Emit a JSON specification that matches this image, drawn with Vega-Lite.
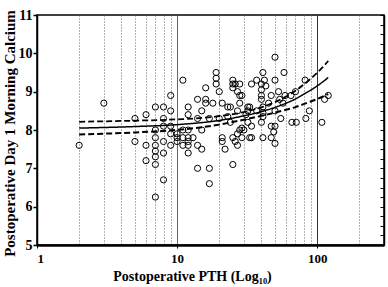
{
  "$schema": "https://vega.github.io/schema/vega-lite/v6.json",
  "width": 347,
  "height": 230,
  "autosize": "none",
  "padding": {"left": 37, "top": 15, "right": 4, "bottom": 42},
  "background": "white",
  "config": {
    "view": {"stroke": "black", "strokeWidth": 1.5},
    "font": "Liberation Serif"
  },
  "datasets": {
    "pts": [
      {"pth": 2, "ca": 7.6}, {"pth": 3, "ca": 8.7}, {"pth": 5, "ca": 8.3}, {"pth": 5, "ca": 7.7},
      {"pth": 6, "ca": 8.4}, {"pth": 6, "ca": 7.6}, {"pth": 6, "ca": 7.2},
      {"pth": 7, "ca": 8.6}, {"pth": 7, "ca": 8.0}, {"pth": 7, "ca": 7.8}, {"pth": 7, "ca": 7.6}, {"pth": 7, "ca": 7.45}, {"pth": 7, "ca": 7.3}, {"pth": 7, "ca": 7.1}, {"pth": 7, "ca": 6.25},
      {"pth": 8, "ca": 8.6}, {"pth": 8, "ca": 8.3}, {"pth": 8, "ca": 8.1}, {"pth": 8, "ca": 7.7}, {"pth": 8, "ca": 7.4}, {"pth": 8, "ca": 6.7},
      {"pth": 9, "ca": 8.9}, {"pth": 9, "ca": 8.5}, {"pth": 9, "ca": 8.1}, {"pth": 9, "ca": 7.9}, {"pth": 9, "ca": 7.6},
      {"pth": 10, "ca": 7.9}, {"pth": 10, "ca": 7.7}, {"pth": 10, "ca": 7.8},
      {"pth": 11, "ca": 9.3}, {"pth": 11, "ca": 8.0}, {"pth": 11, "ca": 7.8}, {"pth": 11, "ca": 7.6},
      {"pth": 12, "ca": 8.6}, {"pth": 12, "ca": 8.4}, {"pth": 12, "ca": 8.0}, {"pth": 12, "ca": 7.8}, {"pth": 12, "ca": 7.6}, {"pth": 12, "ca": 7.7}, {"pth": 12, "ca": 7.4},
      {"pth": 13, "ca": 7.8},
      {"pth": 14, "ca": 8.8}, {"pth": 14, "ca": 8.3}, {"pth": 14, "ca": 7.6}, {"pth": 14, "ca": 7.0},
      {"pth": 15, "ca": 8.5}, {"pth": 15, "ca": 8.0}, {"pth": 15, "ca": 7.5},
      {"pth": 16, "ca": 9.1}, {"pth": 16, "ca": 8.8}, {"pth": 16, "ca": 8.7},
      {"pth": 17, "ca": 7.0}, {"pth": 17, "ca": 6.6}, {"pth": 17, "ca": 8.3},
      {"pth": 18, "ca": 8.7},
      {"pth": 19, "ca": 9.5}, {"pth": 19, "ca": 9.35}, {"pth": 19, "ca": 9.2},
      {"pth": 20, "ca": 9.0}, {"pth": 20, "ca": 8.3},
      {"pth": 21, "ca": 8.7}, {"pth": 21, "ca": 7.8}, {"pth": 21, "ca": 7.7}, {"pth": 22, "ca": 7.5},
      {"pth": 23, "ca": 8.6}, {"pth": 23, "ca": 8.35},
      {"pth": 24, "ca": 8.6}, {"pth": 24, "ca": 8.2},
      {"pth": 25, "ca": 9.3}, {"pth": 25, "ca": 9.2}, {"pth": 25, "ca": 9.1}, {"pth": 25, "ca": 7.8}, {"pth": 25, "ca": 7.1},
      {"pth": 26, "ca": 9.2}, {"pth": 26, "ca": 7.7},
      {"pth": 27, "ca": 9.0}, {"pth": 27, "ca": 8.5}, {"pth": 27, "ca": 7.9}, {"pth": 27, "ca": 7.6},
      {"pth": 28, "ca": 9.2}, {"pth": 28, "ca": 8.9}, {"pth": 28, "ca": 8.7}, {"pth": 28, "ca": 8.0},
      {"pth": 29, "ca": 8.9}, {"pth": 29, "ca": 8.05}, {"pth": 29, "ca": 7.8},
      {"pth": 30, "ca": 8.0}, {"pth": 31, "ca": 8.4},
      {"pth": 32, "ca": 8.6}, {"pth": 32, "ca": 8.5}, {"pth": 32, "ca": 8.2},
      {"pth": 33, "ca": 7.8}, {"pth": 33, "ca": 8.6},
      {"pth": 34, "ca": 9.2}, {"pth": 34, "ca": 8.1}, {"pth": 34, "ca": 7.8},
      {"pth": 37, "ca": 9.3}, {"pth": 37, "ca": 8.5},
      {"pth": 40, "ca": 9.2}, {"pth": 40, "ca": 9.05}, {"pth": 40, "ca": 8.9}, {"pth": 40, "ca": 8.8}, {"pth": 40, "ca": 8.2},
      {"pth": 41, "ca": 9.5}, {"pth": 41, "ca": 8.6}, {"pth": 41, "ca": 8.45}, {"pth": 41, "ca": 7.8}, {"pth": 41, "ca": 8.35},
      {"pth": 42, "ca": 9.3}, {"pth": 43, "ca": 9.15},
      {"pth": 45, "ca": 8.7},
      {"pth": 47, "ca": 8.9}, {"pth": 47, "ca": 8.1}, {"pth": 47, "ca": 7.8},
      {"pth": 49, "ca": 7.95},
      {"pth": 50, "ca": 9.9}, {"pth": 50, "ca": 9.3}, {"pth": 50, "ca": 8.5}, {"pth": 50, "ca": 8.1}, {"pth": 50, "ca": 7.65},
      {"pth": 53, "ca": 9.0}, {"pth": 54, "ca": 8.8}, {"pth": 55, "ca": 8.3}, {"pth": 57, "ca": 8.7},
      {"pth": 58, "ca": 9.5}, {"pth": 59, "ca": 8.9},
      {"pth": 65, "ca": 8.9}, {"pth": 66, "ca": 8.2},
      {"pth": 70, "ca": 9.0}, {"pth": 71, "ca": 8.2},
      {"pth": 82, "ca": 9.3}, {"pth": 83, "ca": 8.3}, {"pth": 88, "ca": 8.5},
      {"pth": 108, "ca": 8.2}, {"pth": 113, "ca": 8.8}, {"pth": 120, "ca": 8.9}
    ],
    "fit": [
      {"pth": 2, "ca": 8.05, "s": "fit"}, {"pth": 5, "ca": 8.09, "s": "fit"}, {"pth": 10, "ca": 8.14, "s": "fit"}, {"pth": 20, "ca": 8.25, "s": "fit"}, {"pth": 30, "ca": 8.37, "s": "fit"}, {"pth": 40, "ca": 8.48, "s": "fit"}, {"pth": 50, "ca": 8.59, "s": "fit"}, {"pth": 60, "ca": 8.70, "s": "fit"}, {"pth": 70, "ca": 8.81, "s": "fit"}, {"pth": 80, "ca": 8.93, "s": "fit"}, {"pth": 90, "ca": 9.04, "s": "fit"}, {"pth": 100, "ca": 9.15, "s": "fit"}, {"pth": 110, "ca": 9.26, "s": "fit"}, {"pth": 120, "ca": 9.37, "s": "fit"},
      {"pth": 2, "ca": 8.215, "s": "upper"}, {"pth": 5, "ca": 8.244, "s": "upper"}, {"pth": 10, "ca": 8.277, "s": "upper"}, {"pth": 20, "ca": 8.36, "s": "upper"}, {"pth": 30, "ca": 8.47, "s": "upper"}, {"pth": 40, "ca": 8.59, "s": "upper"}, {"pth": 50, "ca": 8.727, "s": "upper"}, {"pth": 60, "ca": 8.872, "s": "upper"}, {"pth": 70, "ca": 9.022, "s": "upper"}, {"pth": 80, "ca": 9.185, "s": "upper"}, {"pth": 90, "ca": 9.338, "s": "upper"}, {"pth": 100, "ca": 9.493, "s": "upper"}, {"pth": 110, "ca": 9.647, "s": "upper"}, {"pth": 120, "ca": 9.803, "s": "upper"},
      {"pth": 2, "ca": 7.885, "s": "lower"}, {"pth": 5, "ca": 7.936, "s": "lower"}, {"pth": 10, "ca": 8.003, "s": "lower"}, {"pth": 20, "ca": 8.14, "s": "lower"}, {"pth": 30, "ca": 8.27, "s": "lower"}, {"pth": 40, "ca": 8.37, "s": "lower"}, {"pth": 50, "ca": 8.453, "s": "lower"}, {"pth": 60, "ca": 8.528, "s": "lower"}, {"pth": 70, "ca": 8.598, "s": "lower"}, {"pth": 80, "ca": 8.675, "s": "lower"}, {"pth": 90, "ca": 8.742, "s": "lower"}, {"pth": 100, "ca": 8.807, "s": "lower"}, {"pth": 110, "ca": 8.873, "s": "lower"}, {"pth": 120, "ca": 8.937, "s": "lower"}
    ]
  },
  "resolve": {"axis": {"y": "independent"}},
  "layer": [
    {
      "data": {"name": "pts"},
      "mark": {"type": "point", "shape": "circle", "filled": false, "stroke": "black", "strokeWidth": 1, "size": 38, "opacity": 1},
      "encoding": {
        "x": {
          "field": "pth", "type": "quantitative",
          "scale": {"type": "log", "domain": [1, 300], "nice": false},
          "axis": {
            "values": [1, 2, 3, 4, 5, 6, 7, 8, 9, 10, 20, 30, 40, 50, 60, 70, 80, 90, 100, 200],
            "labelExpr": "(datum.value == 1 || datum.value == 10 || datum.value == 100) ? format(datum.value, 'd') : ''",
            "labelOverlap": false,
            "labelFont": "Liberation Serif", "labelFontWeight": "bold", "labelFontSize": 13, "labelColor": "black", "labelPadding": 4,
            "grid": true,
            "gridDash": {"condition": {"test": "datum.value == 10 || datum.value == 100", "value": []}, "value": [1, 2]},
            "gridColor": {"condition": {"test": "datum.value == 100", "value": "#333333"}, "value": "#666666"},
            "gridWidth": 1,
            "ticks": true, "tickSize": 3, "tickColor": "black",
            "tickOpacity": {"condition": {"test": "datum.value == 1 || datum.value == 10 || datum.value == 100", "value": 1}, "value": 0},
            "domainColor": "black", "domainWidth": 2.5,
            "title": "Postoperative PTH (Log₁₀)",
            "titleFont": "Liberation Serif", "titleFontWeight": "bold", "titleFontSize": 14, "titleColor": "black",
            "titleX": 155, "titleY": 31, "titleBaseline": "middle", "titleAlign": "center"
          }
        },
        "y": {
          "field": "ca", "type": "quantitative",
          "scale": {"domain": [5, 11], "nice": false, "zero": false},
          "axis": {
            "values": [5, 6, 7, 8, 9, 10, 11],
            "labelFont": "Liberation Serif", "labelFontWeight": "bold", "labelFontSize": 14, "labelColor": "black", "labelPadding": 1,
            "tickSize": 4, "tickColor": "black", "tickWidth": 1.5,
            "domainColor": "black", "domainWidth": 1.5,
            "grid": false,
            "title": "Postoperative Day 1 Morning Calcium",
            "titleFont": "Liberation Serif", "titleFontWeight": "bold", "titleFontSize": 15, "titleColor": "black",
            "titleX": -28, "titleY": 118, "titleBaseline": "middle", "titleAlign": "center", "titleAngle": -90
          }
        }
      }
    },
    {
      "data": {"name": "fit"},
      "mark": {"type": "line", "color": "black", "interpolate": "monotone"},
      "encoding": {
        "x": {"field": "pth", "type": "quantitative"},
        "y": {
          "field": "ca", "type": "quantitative",
          "axis": {
            "orient": "right",
            "values": [5, 5.25, 5.5, 5.75, 6, 6.25, 6.5, 6.75, 7, 7.25, 7.5, 7.75, 8, 8.25, 8.5, 8.75, 9, 9.25, 9.5, 9.75, 10, 10.25, 10.5, 10.75, 11],
            "labels": false, "title": null, "grid": false,
            "tickSize": -4, "tickColor": "black", "tickWidth": 1,
            "domainColor": "black", "domainWidth": 1.5
          }
        },
        "detail": {"field": "s"},
        "strokeDash": {
          "field": "s", "type": "nominal",
          "scale": {"domain": ["fit", "upper", "lower"], "range": [[1, 0], [6, 3], [6, 3]]},
          "legend": null
        },
        "strokeWidth": {
          "field": "s", "type": "nominal",
          "scale": {"domain": ["fit", "upper", "lower"], "range": [1.5, 2, 2]},
          "legend": null
        }
      }
    }
  ]
}
